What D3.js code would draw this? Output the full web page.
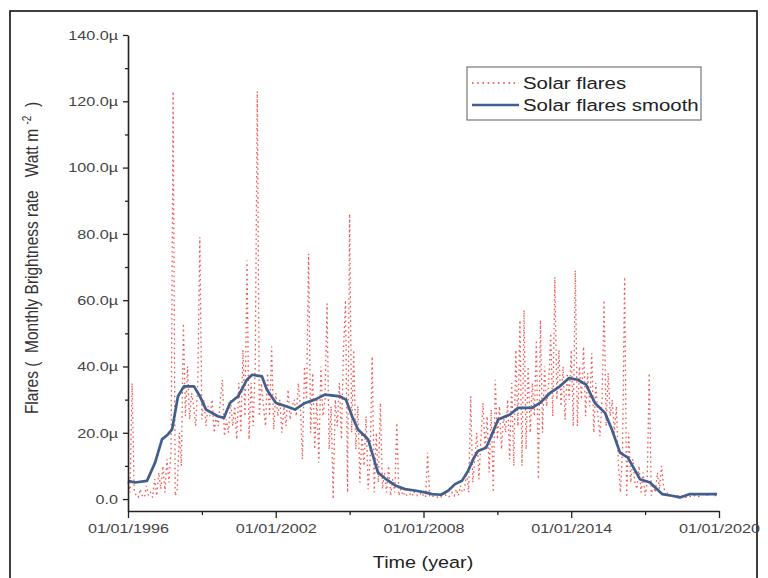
<!DOCTYPE html>
<html>
<head>
<meta charset="utf-8">
<script src="https://cdn.jsdelivr.net/npm/d3@7"></script>
<style>
  html, body { margin: 0; padding: 0; background: #fff; }
  svg { display: block; font-family: "Liberation Sans", Arial, sans-serif; }
</style>
</head>
<body>
<svg id="chart" width="768" height="578"></svg>
<script>
// ---------------- DATA ----------------
const startYear = 1996;
// Monthly solar flares values (µW m^-2), one row per year, Jan..Dec
const flares1996 = [5, 2, 35, 3, 1, 0.5, 3, 1, 0.5, 4, 1, 2];
const flares1997 = [0.5, 6, 1, 8, 3, 10, 2, 12, 5, 15, 123, 1];
const flares1998 = [3, 20, 10, 53, 25, 40, 24, 32, 28, 22, 35, 79];
const flares1999 = [24, 30, 22, 28, 25, 30, 20, 25, 22, 30, 36, 19];
const flares2000 = [24, 20, 30, 22, 28, 18, 35, 20, 45, 25, 72, 18];
const flares2001 = [35, 22, 40, 123, 25, 35, 28, 22, 38, 25, 46, 21];
const flares2002 = [32, 25, 30, 20, 28, 22, 33, 24, 28, 30, 25, 35];
const flares2003 = [28, 12, 40, 30, 74, 20, 38, 15, 30, 11, 40, 25];
const flares2004 = [30, 59, 15, 28, 0, 30, 22, 35, 18, 45, 60, 2];
const flares2005 = [86, 20, 45, 15, 28, 5, 20, 10, 25, 3, 12, 43];
const flares2006 = [2, 20, 5, 29, 3, 8, 2, 10, 1, 6, 2, 23];
const flares2007 = [1, 3, 1, 2, 1, 1, 2, 1, 3, 1, 1, 2];
const flares2008 = [1, 0.5, 14, 1, 0.5, 1, 1, 0.5, 1, 0.5, 2, 1];
const flares2009 = [0.5, 1, 2, 1, 3, 1, 4, 2, 3, 8, 2, 31];
const flares2010 = [5, 12, 20, 6, 18, 29, 15, 25, 8, 27, 2, 36];
const flares2011 = [18, 28, 15, 25, 20, 30, 12, 35, 10, 45, 22, 54];
const flares2012 = [10, 57, 15, 40, 20, 35, 25, 48, 6, 54, 20, 40];
const flares2013 = [28, 35, 50, 25, 67, 30, 45, 28, 40, 24, 38, 30];
const flares2014 = [45, 22, 69, 22, 40, 30, 46, 25, 38, 28, 44, 20];
const flares2015 = [35, 25, 19, 30, 60, 22, 38, 25, 30, 20, 28, 10];
const flares2016 = [2, 15, 67, 0.5, 20, 5, 12, 5, 3, 10, 2, 8];
const flares2017 = [1, 5, 38, 1, 4, 2, 8, 3, 10, 4, 1, 2];
const flares2018 = [1, 0.5, 1, 0.8, 1, 0.5, 1, 0.7, 0.5, 1, 0.8, 0.6];
const flares2019 = [1, 1.2, 0.8, 1, 1.5, 1, 1.2, 1, 1.5, 1.2, 1, 1.3];

// Smoothed series: decimal year and value (µW m^-2)
const smoothYears = [1996.00, 1996.28, 1996.77, 1997.10, 1997.38, 1997.62, 1997.79, 1998.03, 1998.27, 1998.68,
  1998.92, 1999.17, 1999.65, 1999.90, 2000.14, 2000.47, 2000.83, 2001.04, 2001.44, 2001.64,
  2002.01, 2002.42, 2002.78, 2003.19, 2003.59, 2004.00, 2004.61, 2004.85, 2005.10, 2005.34,
  2005.75, 2005.91, 2006.15, 2006.48, 2006.88, 2007.25, 2007.70, 2008.06, 2008.35, 2008.71,
  2009.00, 2009.28, 2009.56, 2009.81, 2010.05, 2010.21, 2010.54, 2010.78, 2011.03, 2011.51,
  2011.84, 2012.41, 2012.73, 2013.14, 2013.54, 2013.91, 2014.27, 2014.60, 2014.96, 2015.37,
  2015.65, 2015.98, 2016.30, 2016.79, 2017.20, 2017.69, 2018.09, 2018.42, 2018.82, 2019.92];
const smoothValues = [5.5, 5, 5.5, 11, 18, 19.5, 21, 31, 34, 34,
  31, 27, 25, 24.5, 29, 31, 36, 37.5, 37, 33,
  29, 28, 27, 29, 30, 31.5, 31, 30, 25, 21,
  18, 14, 8, 6, 4, 3, 2.5, 2, 1.5, 1.3,
  2.5, 4.5, 5.5, 8.5, 12.5, 14.5, 15.5, 19.5, 24, 25.5,
  27.5, 27.5, 29, 32, 34, 36.5, 36, 34.5, 29, 26,
  21, 14, 12.5, 6, 5, 1.5, 1, 0.5, 1.5, 1.5];

const yMajorTicks = [0, 20, 40, 60, 80, 100, 120, 140];
const yMinorTicks = [10, 30, 50, 70, 90, 110, 130];
const xMajorTicks = [1996, 2002, 2008, 2014, 2020];
const xMinorTicks = [1999, 2005, 2011, 2017];
const seriesNames = ["Solar flares", "Solar flares smooth"];

// ---------------- BUILD ----------------
const flaresMonthly = [].concat(flares1996, flares1997, flares1998, flares1999, flares2000, flares2001,
  flares2002, flares2003, flares2004, flares2005, flares2006, flares2007, flares2008, flares2009,
  flares2010, flares2011, flares2012, flares2013, flares2014, flares2015, flares2016, flares2017,
  flares2018, flares2019);
const flaresData = flaresMonthly.map((v, i) => ({ t: startYear + i / 12, v }));
const smoothData = smoothYears.map((t, i) => ({ t, v: smoothValues[i] }));

const svg = d3.select("#chart");
const SX = 1.2; // horizontal text stretch

// outer frame
svg.append("rect").attr("x", 10).attr("y", 11).attr("width", 747).attr("height", 590)
  .attr("fill", "none").attr("stroke", "#111").attr("stroke-width", 1.6);

const x = d3.scaleLinear().domain([1996, 2020]).range([128, 719]);
const y = d3.scaleLinear().domain([-3.6, 140]).range([511, 35]);

// red dotted monthly line
svg.append("path").datum(flaresData)
  .attr("fill", "none").attr("stroke", "#ec3b36").attr("stroke-width", 1.3)
  .attr("stroke-dasharray", "1.6,3.2").attr("opacity", 0.85)
  .attr("d", d3.line().x(d => x(d.t)).y(d => y(d.v)));

// smooth line
svg.append("path").datum(smoothData)
  .attr("fill", "none").attr("stroke", "#3f5f8e").attr("stroke-width", 2.7)
  .attr("stroke-linejoin", "round")
  .attr("d", d3.line().x(d => x(d.t)).y(d => y(d.v)));

// Y axis
const yAxisG = svg.append("g").attr("transform", "translate(128,0)")
  .call(d3.axisLeft(y).tickValues(yMajorTicks).tickSize(5).tickSizeOuter(0).tickPadding(5)
    .tickFormat(d => d === 0 ? "0.0" : d.toFixed(1) + "µ"));
svg.append("g").attr("transform", "translate(128,0)")
  .call(d3.axisLeft(y).tickValues(yMinorTicks).tickSize(3).tickSizeOuter(0).tickFormat(""))
  .select(".domain").remove();

// X axis
const xAxisG = svg.append("g").attr("transform", "translate(0,511)")
  .call(d3.axisBottom(x).tickValues(xMajorTicks).tickSize(7).tickSizeOuter(0).tickPadding(5)
    .tickFormat(d => "01/01/" + d));
svg.append("g").attr("transform", "translate(0,511)")
  .call(d3.axisBottom(x).tickValues(xMinorTicks).tickSize(4).tickSizeOuter(0).tickFormat(""))
  .select(".domain").remove();

svg.selectAll(".domain").attr("stroke", "#222").attr("stroke-width", 1.6);
svg.selectAll(".tick line").attr("stroke", "#222").attr("stroke-width", 1.3);

yAxisG.selectAll(".tick text")
  .attr("font-size", 13.5).attr("fill", "#444").attr("font-family", "Liberation Sans, Arial, sans-serif")
  .attr("x", -10 / SX).attr("transform", `scale(${SX},1)`);
xAxisG.selectAll(".tick text")
  .attr("font-size", 13.5).attr("fill", "#444").attr("font-family", "Liberation Sans, Arial, sans-serif")
  .attr("transform", `scale(${SX},1)`);

// Axis titles
svg.append("g").attr("transform", `translate(423,568) scale(${SX},1)`)
  .append("text").attr("text-anchor", "middle").attr("font-size", 16.5).attr("fill", "#222")
  .text("Time (year)");

const yt = svg.append("g").attr("transform", `translate(38,258) rotate(-90) scale(1,${SX})`)
  .append("text").attr("text-anchor", "middle").attr("font-size", 15.5).attr("fill", "#333")
  .style("white-space", "pre");
yt.append("tspan").text("Flares (  Monthly Brightness rate   Watt m ");
yt.append("tspan").attr("font-size", 10).attr("dy", -6).text("-2");
yt.append("tspan").attr("dy", 6).text("  )");

// Legend
const lg = svg.append("g");
lg.append("rect").attr("x", 467).attr("y", 67).attr("width", 234).attr("height", 53)
  .attr("fill", "#fff").attr("stroke", "#777").attr("stroke-width", 1.2);
const legendRows = [
  { name: seriesNames[0], color: "#ec3b36", dash: "1.6,3.6", w: 1.3, cy: 83 },
  { name: seriesNames[1], color: "#3f5f8e", dash: null, w: 2.4, cy: 105 }
];
legendRows.forEach(r => {
  lg.append("line").attr("x1", 472).attr("x2", 519).attr("y1", r.cy).attr("y2", r.cy)
    .attr("stroke", r.color).attr("stroke-width", r.w).attr("stroke-dasharray", r.dash);
  lg.append("g").attr("transform", `translate(523,${r.cy + 6}) scale(${SX},1)`)
    .append("text").attr("font-size", 17).attr("fill", "#222").text(r.name);
});
</script>
</body>
</html>
